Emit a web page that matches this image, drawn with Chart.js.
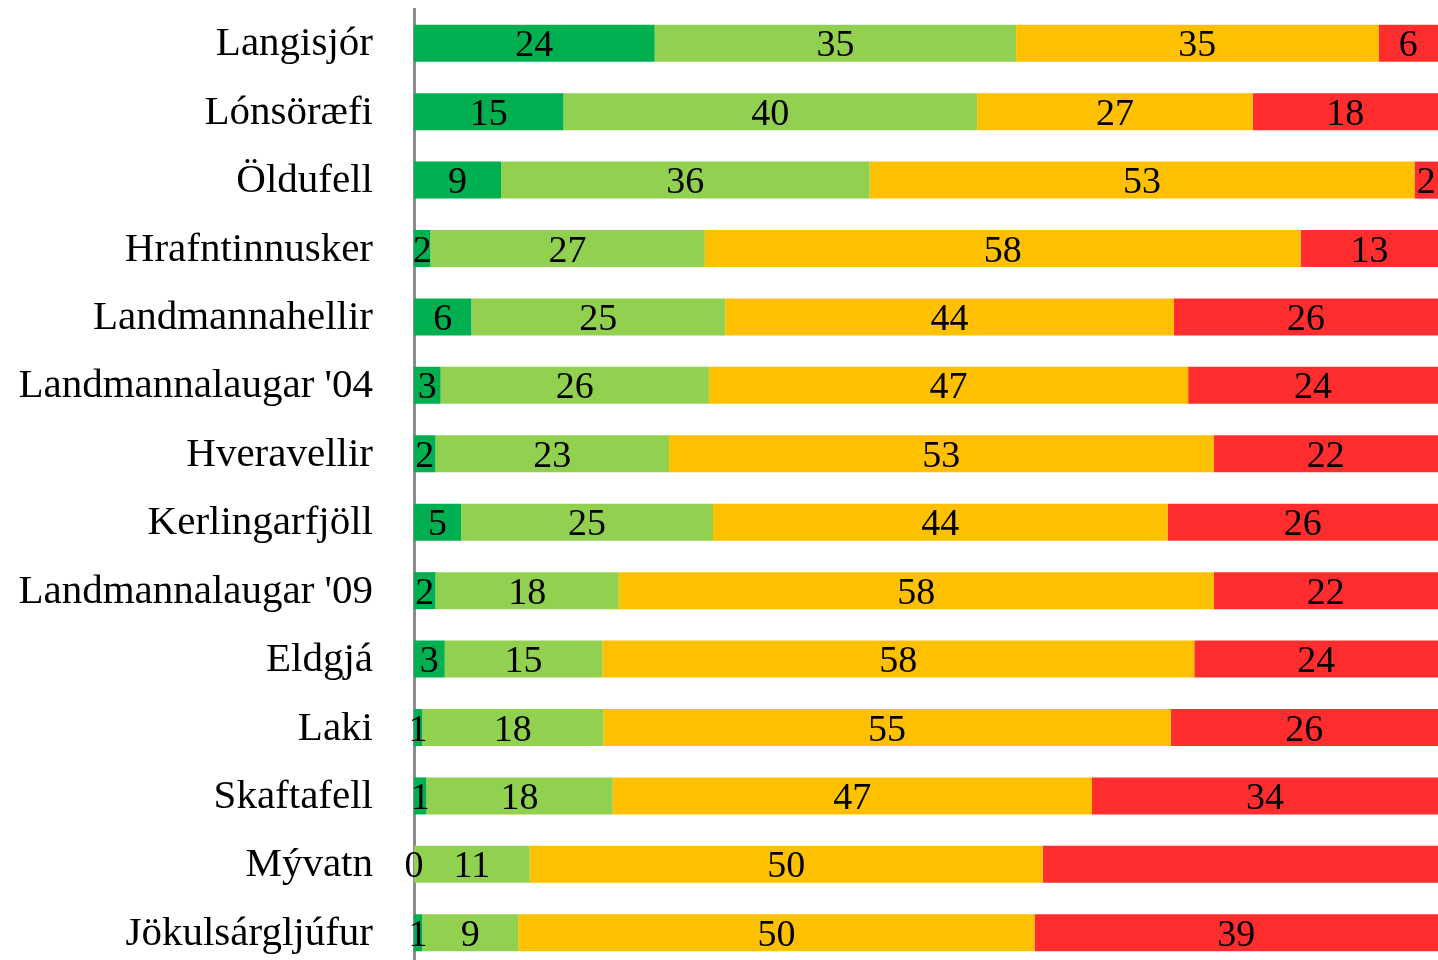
<!DOCTYPE html>
<html>
<head>
<meta charset="utf-8">
<script src="https://cdn.jsdelivr.net/npm/chart.js@4.4.1/dist/chart.umd.min.js"></script>
<style>
  html, body { margin: 0; padding: 0; background: #fff; overflow: hidden; }
  canvas { display: block; }
</style>
</head>
<body>
<canvas id="barChart" width="1438" height="967"></canvas>
<script>
const categories = ["Langisjór", "Lónsöræfi", "Öldufell", "Hrafntinnusker", "Landmannahellir",
  "Landmannalaugar '04", "Hveravellir", "Kerlingarfjöll", "Landmannalaugar '09", "Eldgjá",
  "Laki", "Skaftafell", "Mývatn", "Jökulsárgljúfur"]

// shares per site (percent)
const darkGreen  = [23.5, 14.6, 8.5, 1.6, 5.6, 2.6, 2.1, 4.6, 2.1, 3.0, 0.8, 1.2, 0, 0.8]
const lightGreen = [35.3, 40.4, 36.0, 26.8, 24.8, 26.2, 22.8, 24.6, 17.9, 15.4, 17.7, 18.2, 11.3, 9.4]
const orange     = [35.4, 26.9, 53.2, 58.2, 43.8, 46.8, 53.2, 44.4, 58.1, 57.8, 55.4, 46.8, 50.1, 50.4]
const red        = [5.8, 18.1, 2.3, 13.4, 25.8, 24.4, 21.9, 26.4, 21.9, 23.8, 26.1, 33.8, 38.6, 39.4]

// [series, category] pairs that carry no value label in the original
const hideLabel = [[3, 12]]

const serif = "'Liberation Serif', 'DejaVu Serif', serif"

// value labels in the bars + the site names left of the axis
// (drawn here so the big tick font doesn't eat into the plot height)
const barLabels = {
  id: 'barLabels',
  afterDatasetsDraw(chart) {
    const ctx = chart.ctx
    const yScale = chart.scales.y
    ctx.save()
    ctx.fillStyle = '#000'
    ctx.textBaseline = 'alphabetic'

    ctx.font = '41px ' + serif
    ctx.textAlign = 'right'
    categories.forEach((name, i) => {
      ctx.fillText(name, yScale.right - 41, yScale.getPixelForTick(i) + 12)
    })

    ctx.font = '38px ' + serif
    ctx.textAlign = 'center'
    chart.data.datasets.forEach((ds, di) => {
      const meta = chart.getDatasetMeta(di)
      meta.data.forEach((bar, i) => {
        if (hideLabel.some(h => h[0] === di && h[1] === i)) return
        const p = bar.getProps(['x', 'y', 'base'], true)
        const cx = (p.x + p.base) / 2
        ctx.fillText(String(Math.round(ds.data[i])), cx, p.y + 13)
      })
    })
    ctx.restore()
  }
}

const CHART = document.getElementById('barChart')
let barChart = new Chart(CHART, {
  type: 'bar',
  data: {
    labels: categories,
    datasets: [
      { label: 'dark green', data: darkGreen, backgroundColor: '#00B050' },
      { label: 'light green', data: lightGreen, backgroundColor: '#92D050' },
      { label: 'orange', data: orange, backgroundColor: '#FFC000' },
      { label: 'red', data: red, backgroundColor: '#FF2D2D' }
    ]
  },
  options: {
    indexAxis: 'y',
    responsive: false,
    animation: false,
    devicePixelRatio: 1,
    layout: { padding: { top: 9, right: 0, bottom: 0, left: 0 } },
    datasets: {
      bar: { barPercentage: 0.541, categoryPercentage: 1, borderWidth: 0 }
    },
    plugins: {
      legend: { display: false },
      tooltip: { enabled: false }
    },
    scales: {
      x: {
        stacked: true,
        min: 0,
        max: 100,
        display: false
      },
      y: {
        stacked: true,
        grid: { display: false, drawTicks: false },
        border: { display: true, color: '#8c8c8c', width: 3 },
        ticks: { display: false },
        afterFit(scale) { scale.width = 414 }
      }
    }
  },
  plugins: [barLabels]
})
</script>
</body>
</html>
